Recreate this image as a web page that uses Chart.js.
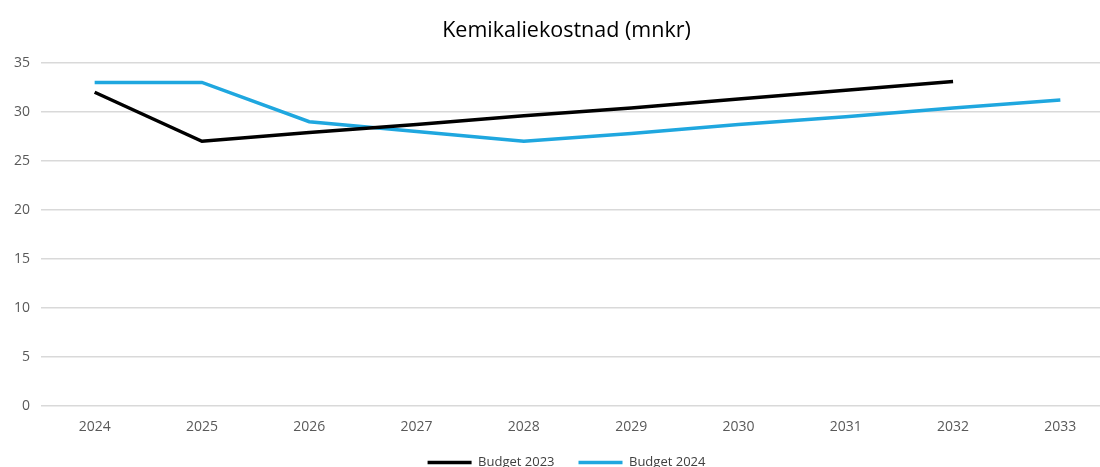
<!DOCTYPE html>
<html>
<head>
<meta charset="utf-8">
<script src="https://cdn.jsdelivr.net/npm/chart.js@4/dist/chart.umd.min.js"></script>
<style>
  html, body { margin: 0; padding: 0; background: #fff; overflow: hidden; }
  #wrap { width: 1130px; height: 467px; }
</style>
</head>
<body>
<!-- the reference is cropped on the right, so the canvas is a bit wider than the window -->
<div id="wrap"><canvas id="myChart" width="1130" height="467"></canvas></div>
<script>
const years = ['2024', '2025', '2026', '2027', '2028', '2029', '2030', '2031', '2032', '2033'];
const budget2023 = [32, 27, 27.9, 28.7, 29.6, 30.4, 31.3, 32.2, 33.1, null];
const budget2024 = [33, 33, 29, 28, 27, 27.8, 28.7, 29.5, 30.4, 31.2];
const yTicks = [0, 5, 10, 15, 20, 25, 30, 35];

const ctx = document.getElementById('myChart').getContext('2d');
Chart.defaults.font.family = '"Open Sans", "Noto Sans", sans-serif';
Chart.defaults.color = '#595959';

new Chart(ctx, {
  type: 'line',
  data: {
    labels: years,
    datasets: [
      {
        label: 'Budget 2023',
        data: budget2023,
        borderColor: '#000000',
        backgroundColor: '#000000',
        borderWidth: 3.5,
        pointRadius: 0,
        tension: 0
      },
      {
        label: 'Budget 2024',
        data: budget2024,
        borderColor: '#1fa7df',
        backgroundColor: '#1fa7df',
        borderWidth: 3.5,
        pointRadius: 0,
        tension: 0
      }
    ]
  },
  options: {
    responsive: false,
    animation: false,
    layout: { padding: { left: 3, right: 0, top: 0, bottom: -12 } },
    plugins: {
      title: {
        display: true,
        text: 'Kemikaliekostnad (mnkr)',
        color: '#000000',
        font: { size: 21.5, weight: 'normal' },
        padding: { top: 18, bottom: 19 }
      },
      legend: {
        position: 'bottom',
        labels: {
          usePointStyle: true,
          pointStyle: 'line',
          pointStyleWidth: 44,
          color: '#404040',
          font: { size: 13 },
          padding: 24,
          boxHeight: 4
        }
      },
      tooltip: { enabled: false }
    },
    scales: {
      x: {
        offset: true,
        grid: { display: false },
        border: { display: false },
        ticks: { font: { size: 14 }, color: '#595959', padding: 4 },
        afterFit: (axis) => {
          axis.height -= 7;
          axis.paddingLeft = 0;
          axis.paddingRight = 16;
        }
      },
      y: {
        min: 0,
        max: 35,
        afterBuildTicks: (axis) => { axis.ticks = yTicks.map(v => ({ value: v })); },
        grid: { color: '#d9d9d9', lineWidth: 1.5, drawTicks: false },
        border: { display: false },
        ticks: { font: { size: 14 }, color: '#595959', padding: 11 }
      }
    }
  }
});
</script>
</body>
</html>
